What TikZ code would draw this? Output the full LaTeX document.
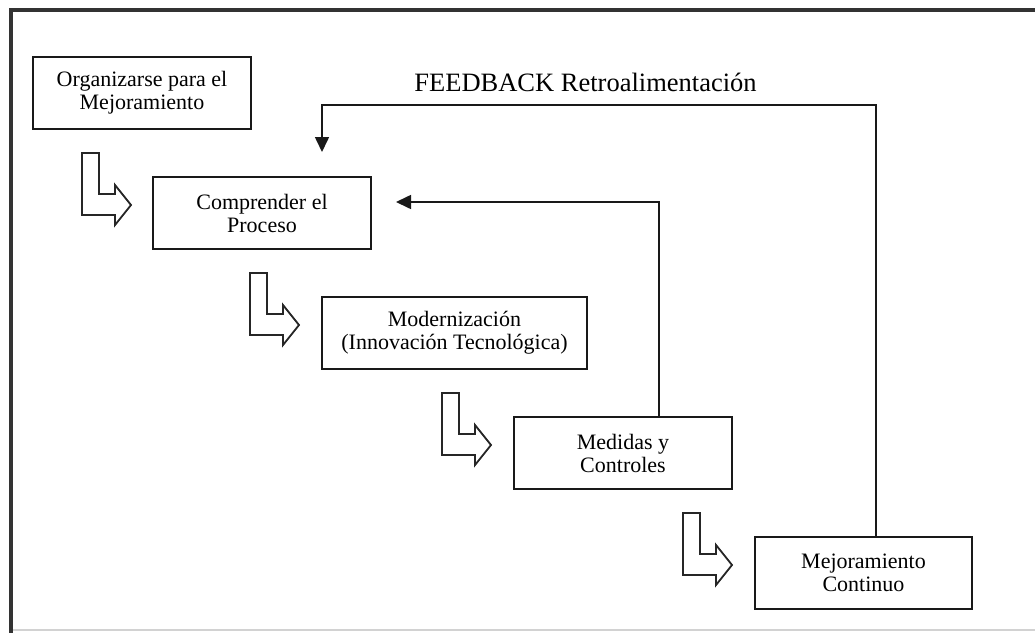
\documentclass[tikz,border=0pt]{standalone}
\usepackage{fontspec}
\setmainfont{Liberation Serif}
\usetikzlibrary{arrows.meta}
\tikzset{
  stagebox/.style={draw=black!90, line width=1.7pt, rectangle, minimum height=72pt,
    inner sep=0pt, align=center, font=\fontsize{22}{23}\selectfont},
  fbline/.style={draw=black!90, line width=1.6pt},
  fbarrow/.style={fbline, -{Triangle[length=15pt,width=14pt]}},
  frameline/.style={draw=black!80, line width=3.4pt},
  blockarrow/.pic={
    \draw[draw=black!85, line width=1.8pt, line join=miter]
      (0,0) -- (17,0) -- (17,41) -- (33,41) -- (33,32) -- (49,52)
      -- (33,72) -- (33,62) -- (0,62) -- cycle;
  }
}
\begin{document}
\begin{tikzpicture}[x=1pt,y=-1pt]
\useasboundingbox (0,0) rectangle (1035,632);
% frame
\draw[gray!35, line width=2pt] (11,630) -- (1040,630);
\draw[frameline] (1040,10) -- (11,10) -- (11,640);

% boxes
\node[stagebox, minimum width=218pt] (b1) at (142,93) {Organizarse para el\\Mejoramiento};
\node[stagebox, minimum width=218pt] (b2) at (262,213) {Comprender el\\Proceso};
\node[stagebox, minimum width=265pt] (b3) at (454.5,333) {Modernización\\(Innovación Tecnológica)};
\node[stagebox, minimum width=218pt] (b4) at (623,453) {Medidas y\\Controles};
\node[stagebox, minimum width=217pt] (b5) at (863.5,573) {Mejoramiento\\Continuo};

% block arrows
\pic at (82,153) {blockarrow};
\pic at (250,273) {blockarrow};
\pic at (442,393) {blockarrow};
\pic at (683,513) {blockarrow};

% feedback loops
\coordinate (fbtip) at (322,152);
\coordinate (fbx) at (876,105);
\draw[fbarrow] (b5.north -| fbx) -- (fbx) -- (fbx -| fbtip) -- (fbtip);

\coordinate (intip) at (396,202);
\coordinate (inx) at (659,202);
\draw[fbarrow] (b4.north -| inx) -- (inx) -- (intip);

\node[anchor=base, font=\fontsize{26.5}{28}\selectfont, inner sep=0pt] (fbl) at (585.5,91) {FEEDBACK Retroalimentación};
\end{tikzpicture}
\end{document}
